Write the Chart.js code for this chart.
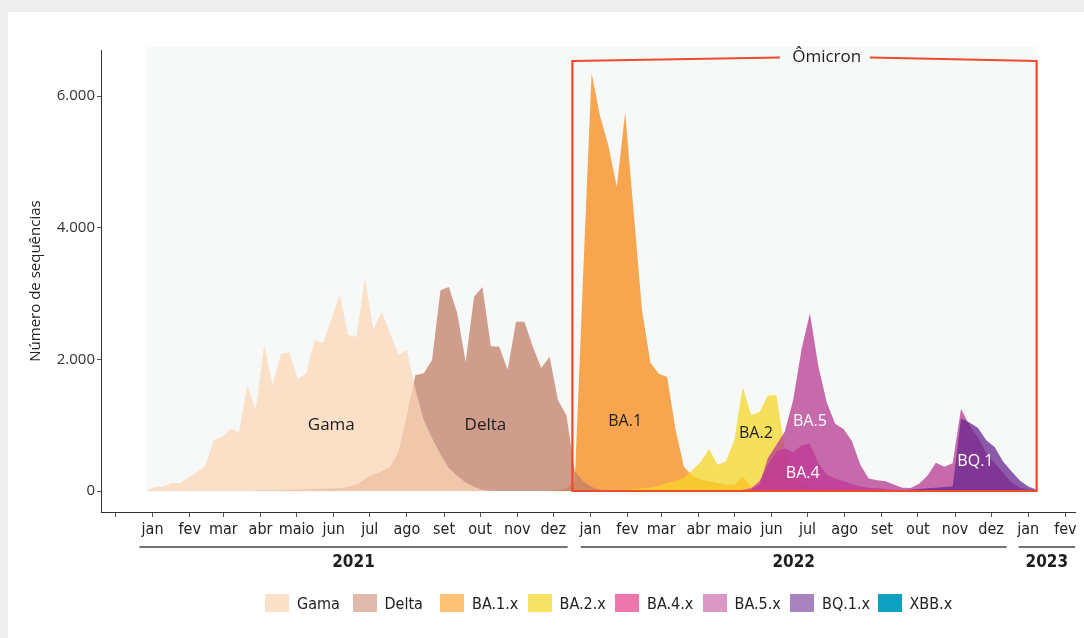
<!DOCTYPE html>
<html>
<head>
<meta charset="utf-8">
<script src="https://cdn.jsdelivr.net/npm/chart.js@4.4.0/dist/chart.umd.min.js"></script>
<style>
html,body{margin:0;padding:0;background:#eeeeee;width:1084px;height:638px;overflow:hidden;}
#card{position:absolute;left:8px;top:12px;width:1076px;height:626px;background:#ffffff;}
#wrap{position:absolute;left:0;top:0;width:1076px;height:626px;}
#legend{position:absolute;left:257px;top:582px;display:flex;font-family:"Liberation Sans Narrow","DejaVu Sans Condensed","Roboto",sans-serif;font-size:16px;color:#222;}
.item{width:87.5px;display:flex;align-items:center;height:18px;}
.box{width:24px;height:18px;margin-right:8px;flex:none;}
</style>
</head>
<body>
<div id="card">
  <div id="wrap"><canvas id="c"></canvas></div>
  <div id="legend"></div>
</div>
<script>
// ---- data (weekly number of sequences, week starting 2020-12-27) ----
const seriesNames = ['Gama','Delta','BA.1.x','BA.2.x','BA.4.x','BA.5.x','BQ.1.x','XBB.x'];

const gama = [
  0,60,70,120,120,200,290,380,770,820,
  950,890,1610,1230,2220,1610,2080,2110,1700,1780,
  2290,2250,2600,2980,2370,2340,3240,2450,2720,2400,
  2070,2140,1550,1080,800,560,350,230,130,60,
  20,5,0,0,0,0,0,0,0,0,
  0,0,0,0,0,0,0,0,0,0,
  0,0,0,0,0,0,0,0,0,0,
  0,0,0,0,0,0,0,0,0,0,
  0,0,0,0,0,0,0,0,0,0,
  0,0,0,0,0,0,0,0,0,0,
  0,0,0,0,0,0,0
];
const delta = [
  0,0,0,0,0,0,0,0,0,0,
  0,0,0,5,10,10,15,20,20,25,
  30,35,40,45,60,100,180,250,300,360,
  600,1150,1760,1790,1990,3050,3100,2700,1960,2950,
  3100,2200,2190,1840,2570,2570,2190,1870,2040,1380,
  1150,300,150,60,20,10,5,0,0,0,
  0,0,0,0,0,0,0,0,0,0,
  0,0,0,0,0,0,0,0,0,0,
  0,0,0,0,0,0,0,0,0,0,
  0,0,0,0,0,0,0,0,0,0,
  0,0,0,0,0,0,0
];
const ba1 = [
  0,0,0,0,0,0,0,0,0,0,
  0,0,0,0,0,0,0,0,0,0,
  0,0,0,0,0,0,0,0,0,0,
  0,0,0,0,0,0,0,0,0,0,
  0,0,0,0,0,0,0,0,5,10,
  40,150,3300,6350,5700,5250,4620,5750,4250,2750,
  1950,1780,1730,930,370,230,170,150,120,100,
  100,220,60,30,20,10,5,0,0,0,
  0,0,0,0,0,0,0,0,0,0,
  0,0,0,0,0,0,0,0,0,0,
  0,0,0,0,0,0,0
];
const ba2 = [
  0,0,0,0,0,0,0,0,0,0,
  0,0,0,0,0,0,0,0,0,0,
  0,0,0,0,0,0,0,0,0,0,
  0,0,0,0,0,0,0,0,0,0,
  0,0,0,0,0,0,0,0,0,0,
  0,0,0,0,0,0,10,20,30,40,
  50,80,120,150,200,320,440,640,400,450,
  780,1580,1150,1200,1450,1460,650,300,130,60,
  30,15,10,5,0,0,0,0,0,0,
  0,0,0,0,0,0,0,0,0,0,
  0,0,0,0,0,0,0
];
const ba4 = [
  0,0,0,0,0,0,0,0,0,0,
  0,0,0,0,0,0,0,0,0,0,
  0,0,0,0,0,0,0,0,0,0,
  0,0,0,0,0,0,0,0,0,0,
  0,0,0,0,0,0,0,0,0,0,
  0,0,0,0,0,0,0,0,0,0,
  0,0,0,0,0,0,0,0,0,0,
  0,20,40,150,400,600,650,590,690,720,
  420,250,190,150,110,70,50,40,30,20,
  10,5,0,0,0,0,0,0,0,0,
  0,0,0,0,0,0,0
];
const ba5 = [
  0,0,0,0,0,0,0,0,0,0,
  0,0,0,0,0,0,0,0,0,0,
  0,0,0,0,0,0,0,0,0,0,
  0,0,0,0,0,0,0,0,0,0,
  0,0,0,0,0,0,0,0,0,0,
  0,0,0,0,0,0,0,0,0,0,
  0,0,0,0,0,0,0,0,0,0,
  0,0,20,100,500,700,900,1380,2150,2700,
  1900,1350,1020,940,760,400,190,165,150,100,
  50,45,110,230,430,370,420,1250,1000,820,
  580,420,280,130,50,20,0
];
const bq1 = [
  0,0,0,0,0,0,0,0,0,0,
  0,0,0,0,0,0,0,0,0,0,
  0,0,0,0,0,0,0,0,0,0,
  0,0,0,0,0,0,0,0,0,0,
  0,0,0,0,0,0,0,0,0,0,
  0,0,0,0,0,0,0,0,0,0,
  0,0,0,0,0,0,0,0,0,0,
  0,0,0,0,0,0,0,0,0,0,
  0,0,0,0,0,0,0,0,0,0,
  10,20,30,40,50,60,70,1100,1040,960,
  770,670,450,300,160,70,20
];
const xbb = [
  0,0,0,0,0,0,0,0,0,0,
  0,0,0,0,0,0,0,0,0,0,
  0,0,0,0,0,0,0,0,0,0,
  0,0,0,0,0,0,0,0,0,0,
  0,0,0,0,0,0,0,0,0,0,
  0,0,0,0,0,0,0,0,0,0,
  0,0,0,0,0,0,0,0,0,0,
  0,0,0,0,0,0,0,0,0,0,
  0,0,0,0,0,0,0,0,0,0,
  0,0,0,0,0,0,0,0,0,0,
  0,0,0,0,0,0,0
];
const monthLabels = ['', 'jan','fev','mar','abr','maio','jun','jul','ago','set','out','nov','dez',
  'jan','fev','mar','abr','maio','jun','jul','ago','set','out','nov','dez','jan','fev'];
const yearLabels = ['2021','2022','2023'];
const yTickValues = [0, 2000, 4000, 6000];

// ---- helpers / styles ----
const DAY = 86400000;
const ORIGIN = Date.UTC(2021, 0, 1);
const dayOf = (y, m, d) => (Date.UTC(y, m, d) - ORIGIN) / DAY;
const firstWeekDay = dayOf(2020, 11, 27);
const series = [gama, delta, ba1, ba2, ba4, ba5, bq1, xbb];
const weekDays = gama.map((_, i) => firstWeekDay + 7 * i);
const monthTickDays = monthLabels.map((_, k) => { const m = 11 + k; return dayOf(2020 + Math.floor(m / 12), m % 12, 1); });

const areaColors = ['rgba(252,214,182,0.75)','rgba(193,125,101,0.75)','rgba(247,137,21,0.75)','rgba(245,214,38,0.75)',
  'rgba(217,48,158,0.75)','rgba(181,58,145,0.75)','rgba(103,38,142,0.75)','rgba(0,150,185,0.75)'];
const legendColors = ['#fde0c8','#dfbaab','#fdc273','#f6e264','#ef76ac','#dc98c4','#a884be','#0fa0c1'];
const drawOrder = [1, 2, 7, 6, 5, 4, 3, 0];

const SANS = '"Open Sans", "Noto Sans", sans-serif';
const NARROW = '"Liberation Sans Narrow", "DejaVu Sans Condensed", "Roboto", sans-serif';

const areaLabels = [
  {text:'Gama', x:149, y:1000, color:'#1e1e1e', size:17},
  {text:'Delta', x:277.5, y:1000, color:'#1e1e1e', size:17},
  {text:'BA.1', x:394, y:1050, color:'#1e1e1e', size:16},
  {text:'BA.2', x:503, y:880, color:'#1e1e1e', size:16},
  {text:'BA.5', x:548, y:1050, color:'#ffffff', size:16},
  {text:'BA.4', x:542, y:260, color:'#ffffff', size:16},
  {text:'BQ.1', x:686, y:455, color:'#ffffff', size:16}
];
const omicron = {from:350, to:737, corner:6532, apex:6585, gapFrom:523, gapTo:598, labelX:562, text:'Ômicron'};
const yearSpans = [[-11, 346], [357, 712], [722, 769]];

const decor = {
  id: 'decor',
  beforeDatasetsDraw(chart) {
    const {ctx, chartArea} = chart;
    const x = chart.scales.x, y = chart.scales.y;
    const x0 = x.getPixelForValue(weekDays[0]);
    const x1 = x.getPixelForValue(weekDays[weekDays.length - 1]);
    const yb = y.getPixelForValue(0) + 1;
    const yt = chartArea.top - 3;
    ctx.save();
    ctx.fillStyle = '#f7f9f9';
    ctx.fillRect(x0, yt, x1 - x0, yb - yt);
    ctx.restore();
  },
  afterDatasetsDraw(chart) {
    const {ctx} = chart;
    const x = chart.scales.x, y = chart.scales.y;
    ctx.save();
    // in-chart labels
    ctx.textAlign = 'center';
    ctx.textBaseline = 'middle';
    areaLabels.forEach(l => {
      ctx.font = l.size + 'px ' + SANS;
      ctx.fillStyle = l.color;
      ctx.fillText(l.text, x.getPixelForValue(l.x), y.getPixelForValue(l.y));
    });
    // Omicron box
    const xl = x.getPixelForValue(omicron.from), xr = x.getPixelForValue(omicron.to);
    const yc = y.getPixelForValue(omicron.corner), ya = y.getPixelForValue(omicron.apex);
    const y0 = y.getPixelForValue(0);
    const gl = x.getPixelForValue(omicron.gapFrom), gr = x.getPixelForValue(omicron.gapTo);
    ctx.strokeStyle = '#ee4a2b';
    ctx.lineWidth = 2.2;
    ctx.lineJoin = 'miter';
    ctx.beginPath();
    ctx.moveTo(gl, ya);
    ctx.lineTo(xl, yc);
    ctx.lineTo(xl, y0);
    ctx.lineTo(xr, y0);
    ctx.lineTo(xr, yc);
    ctx.lineTo(gr, ya);
    ctx.stroke();
    ctx.font = '17px ' + SANS;
    ctx.fillStyle = '#1e1e1e';
    ctx.fillText(omicron.text, x.getPixelForValue(omicron.labelX), ya);
    ctx.restore();
  },
  afterDraw(chart) {
    const {ctx, chartArea} = chart;
    const x = chart.scales.x;
    const yLine = chartArea.bottom + 35;
    const yText = chartArea.bottom + 51;
    ctx.save();
    ctx.strokeStyle = '#444';
    ctx.lineWidth = 1.5;
    ctx.fillStyle = '#1e1e1e';
    ctx.font = 'bold 17px ' + NARROW;
    ctx.textAlign = 'center';
    ctx.textBaseline = 'middle';
    yearSpans.forEach((s, i) => {
      const a = x.getPixelForValue(s[0]);
      const b = Math.min(x.getPixelForValue(s[1]), chartArea.right);
      ctx.beginPath();
      ctx.moveTo(a, yLine);
      ctx.lineTo(b, yLine);
      ctx.stroke();
      ctx.fillText(yearLabels[i], (a + b) / 2, yText);
    });
    ctx.restore();
  }
};

const datasets = series.map((s, i) => ({
  label: seriesNames[i],
  data: s.map((v, j) => ({x: weekDays[j], y: v})),
  backgroundColor: areaColors[i],
  borderWidth: 0,
  pointRadius: 0,
  fill: 'origin',
  tension: 0,
  order: drawOrder[i]
}));

new Chart(document.getElementById('c'), {
  type: 'line',
  data: {datasets},
  options: {
    responsive: true,
    maintainAspectRatio: false,
    animation: false,
    devicePixelRatio: 1,
    layout: {padding: {top: 38, right: 9, left: 0, bottom: 0}},
    plugins: {legend: {display: false}, tooltip: {enabled: false}},
    scales: {
      x: {
        type: 'linear',
        min: -43,
        max: 769,
        afterBuildTicks: (scale) => { scale.ticks = monthTickDays.map(v => ({value: v})); },
        afterFit: (scale) => { scale.height = 126; },
        ticks: {
          autoSkip: false,
          maxRotation: 0,
          padding: 3,
          color: '#222',
          font: {family: NARROW, size: 16},
          callback: (v, i) => monthLabels[i]
        },
        grid: {drawOnChartArea: false, drawTicks: true, tickLength: 5, color: '#555'},
        border: {display: true, color: '#333', width: 1}
      },
      y: {
        type: 'linear',
        min: -319,
        max: 6699,
        afterBuildTicks: (scale) => { scale.ticks = yTickValues.map(v => ({value: v})); },
        afterFit: (scale) => { scale.width = 93; },
        ticks: {
          padding: 2,
          color: '#333',
          font: {family: SANS, size: 15},
          callback: (v) => String(v).replace(/\B(?=(\d{3})+(?!\d))/g, '.')
        },
        grid: {drawOnChartArea: false, drawTicks: true, tickLength: 4, color: '#555'},
        border: {display: true, color: '#333', width: 1},
        title: {
          display: true,
          text: 'Número de sequências',
          color: '#222',
          font: {family: SANS, size: 15},
          padding: {top: 19, bottom: 0}
        }
      }
    }
  },
  plugins: [decor]
});

// HTML legend
const legend = document.getElementById('legend');
seriesNames.forEach((n, i) => {
  const item = document.createElement('div');
  item.className = 'item';
  const box = document.createElement('span');
  box.className = 'box';
  box.style.background = legendColors[i];
  const t = document.createElement('span');
  t.textContent = n;
  item.appendChild(box);
  item.appendChild(t);
  legend.appendChild(item);
});
</script>
</body>
</html>
